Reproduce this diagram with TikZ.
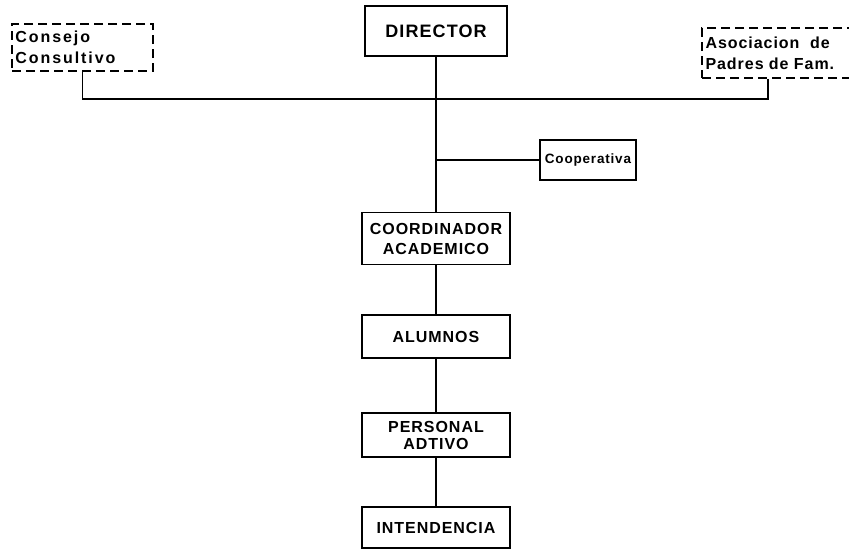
\documentclass[tikz,border=0pt]{standalone}
\usepackage{fontspec}
\setmainfont{Liberation Sans}[LetterSpace=6]
\usetikzlibrary{positioning}

\begin{document}
\begin{tikzpicture}[
    x=1pt, y=-1pt,
    unit/.style={
        draw,
        line width=1.4pt,
        minimum width=148pt,
        inner sep=1pt,
        align=center,
        font=\fontsize{16}{17}\selectfont\bfseries
    },
    adviser/.style={
        draw,
        dash pattern=on 9pt off 5pt,
        line width=1.4pt,
        align=left,
        inner sep=3pt,
        font=\fontsize{16}{21}\selectfont\bfseries
    },
    link/.style={line width=1.2pt}
]
\useasboundingbox (0,0) rectangle (849,549);

% main chain
\node[unit, minimum width=142pt, minimum height=50pt,
      font=\fontsize{18}{20}\selectfont\bfseries] (director) at (436,31) {DIRECTOR};
\node[unit, minimum height=52pt, font=\fontsize{16}{20}\selectfont\bfseries] (coord) at (436,238.5) {COORDINADOR\\ACADEMICO};
\node[unit, minimum height=43pt] (alumnos) at (436,336.5) {ALUMNOS};
\node[unit, minimum height=44pt] (personal) at (436,435) {PERSONAL\\ADTIVO};
\node[unit, minimum height=41pt] (intendencia) at (436,527.5) {INTENDENCIA};

% side bodies
\node[adviser, minimum width=141pt, minimum height=47pt, text width=134pt,
      font=\fontsize{16}{21}\selectfont\bfseries\addfontfeature{LetterSpace=12}] (consejo) at (82.5,47.5) {Consejo\\Consultivo};
\node[adviser, minimum width=150pt, minimum height=50pt, text width=143pt] (asoc) at (777,53) {Asociacion\ \ de\\Padres de Fam.};
\node[unit, minimum width=96pt, minimum height=40pt,
      font=\fontsize{13.5}{15}\selectfont\bfseries] (coop) at (588,160) {Cooperativa};

\coordinate (junction) at (436,99);

\draw[link] (consejo.south) |- (junction) -| ([xshift=-9pt]asoc.south);
\draw[link] (director) -- (coord);
\draw[link] (coop.west) -- (coop.west -| director.south);
\draw[link] (coord) -- (alumnos);
\draw[link] (alumnos) -- (personal);
\draw[link] (personal) -- (intendencia);

\end{tikzpicture}
\end{document}
